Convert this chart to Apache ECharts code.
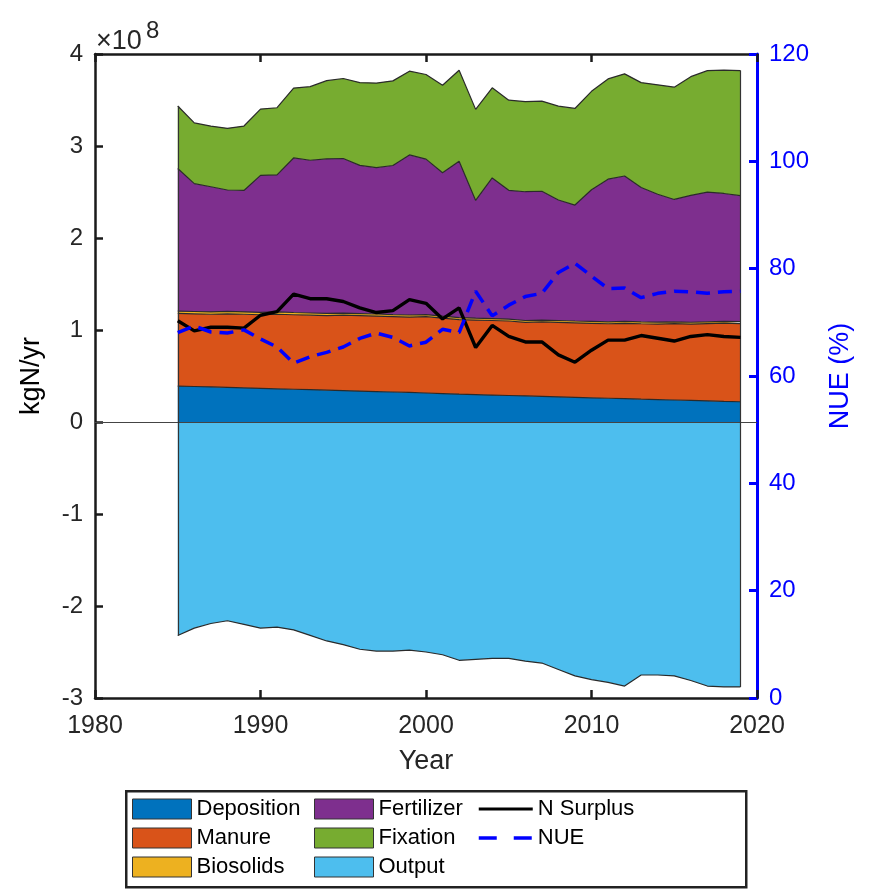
<!DOCTYPE html>
<html>
<head>
<meta charset="utf-8">
<script src="https://cdn.jsdelivr.net/npm/echarts@6/dist/echarts.min.js"></script>
<style>
html,body{margin:0;padding:0;background:#fff;}
#chart{width:870px;height:893px;}
</style>
</head>
<body>
<div id="chart"></div>
<script>
// ---- Data (kgN/yr in units of 1e8; NUE in %) ----
const years = [1985,1986,1987,1988,1989,1990,1991,1992,1993,1994,1995,1996,1997,1998,1999,2000,2001,2002,2003,2004,2005,2006,2007,2008,2009,2010,2011,2012,2013,2014,2015,2016,2017,2018,2019];
const deposition = [0.39,0.386,0.381,0.376,0.371,0.366,0.361,0.356,0.351,0.346,0.341,0.336,0.331,0.326,0.321,0.315,0.309,0.303,0.298,0.293,0.288,0.283,0.278,0.273,0.268,0.263,0.258,0.253,0.248,0.244,0.239,0.234,0.229,0.224,0.22];
const manure = [0.79,0.79,0.79,0.80,0.80,0.80,0.81,0.81,0.81,0.81,0.82,0.82,0.82,0.82,0.82,0.83,0.82,0.81,0.81,0.81,0.81,0.80,0.81,0.81,0.81,0.81,0.81,0.82,0.82,0.82,0.83,0.83,0.84,0.85,0.85];
const biosolids = [0.025,0.025,0.026,0.026,0.026,0.025,0.025,0.024,0.024,0.024,0.023,0.023,0.023,0.022,0.022,0.022,0.021,0.021,0.02,0.02,0.02,0.02,0.02,0.02,0.02,0.021,0.021,0.021,0.021,0.021,0.02,0.02,0.02,0.02,0.02];
const fertilizer = [1.55,1.39,1.36,1.32,1.32,1.49,1.49,1.68,1.66,1.68,1.68,1.61,1.59,1.62,1.74,1.69,1.56,1.70,1.28,1.53,1.40,1.40,1.40,1.31,1.26,1.43,1.55,1.58,1.46,1.39,1.33,1.38,1.41,1.39,1.37];
const fixation = [0.68,0.66,0.66,0.67,0.70,0.72,0.73,0.76,0.80,0.85,0.87,0.90,0.92,0.92,0.91,0.92,0.95,0.99,0.99,0.98,0.98,0.98,0.98,1.02,1.05,1.07,1.09,1.11,1.14,1.19,1.22,1.29,1.32,1.34,1.36];
const output = [-2.32,-2.24,-2.19,-2.16,-2.20,-2.24,-2.23,-2.26,-2.32,-2.38,-2.42,-2.47,-2.49,-2.49,-2.48,-2.50,-2.53,-2.59,-2.58,-2.57,-2.57,-2.60,-2.62,-2.69,-2.76,-2.80,-2.83,-2.87,-2.75,-2.75,-2.76,-2.81,-2.87,-2.88,-2.88];
const nSurplus = [1.10,0.99,1.03,1.03,1.02,1.16,1.20,1.39,1.34,1.34,1.31,1.24,1.19,1.21,1.33,1.29,1.12,1.24,0.81,1.05,0.93,0.87,0.87,0.73,0.65,0.78,0.89,0.89,0.94,0.91,0.88,0.93,0.95,0.93,0.92];
const nue = [68.1,69.3,68.2,68.0,68.6,66.9,65.4,62.4,63.6,64.4,65.4,67.0,68.0,67.2,65.6,66.3,68.7,68.1,75.8,71.2,73.2,74.8,75.4,79.3,81.0,78.6,76.3,76.4,74.6,75.4,75.8,75.7,75.4,75.7,75.8];
const leftTicks = [-3,-2,-1,0,1,2,3,4];
const rightTicks = [0,20,40,60,80,100,120];
const xTicks = [1980,1990,2000,2010,2020];

const colors = {
  Deposition:'#0072BD', Manure:'#D95319', Biosolids:'#EDB120',
  Fertilizer:'#7E2F8E', Fixation:'#77AC30', Output:'#4DBEEE'
};
// category axis spanning the full x range (one slot per year)
const cats = [];
for (let y = xTicks[0]; y <= xTicks[xTicks.length-1]; y++) cats.push(String(y));
const pad = arr => cats.map(c => { const i = years.indexOf(+c); return i < 0 ? null : arr[i]; });
const edge = '#2a2a2a';
const FONT = 'Liberation Sans, Arial, sans-serif';

function areaSeries(name, arr){
  return {
    name, type:'line', stack:'inputs', data:pad(arr), symbol:'none',
    lineStyle:{color:edge, width:1.2},
    itemStyle:{color:colors[name]},
    areaStyle:{color:colors[name], opacity:1},
    emphasis:{disabled:true}, z:2
  };
}
const last = years.length-1;
const total0 = deposition[0]+manure[0]+biosolids[0]+fertilizer[0]+fixation[0];
const totalN = deposition[last]+manure[last]+biosolids[last]+fertilizer[last]+fixation[last];

const chart = echarts.init(document.getElementById('chart'), null, {renderer:'canvas'});
const legendIcon = name => ({name, icon:'rect', itemStyle:{color:colors[name], borderColor:'#333', borderWidth:1}});
const legendBase = {
  orient:'vertical', top:798, padding:0, itemWidth:59, itemHeight:20, itemGap:7,
  textStyle:{fontSize:22, color:'#000', fontFamily:FONT},
  selectedMode:false
};
const xCommon = {
  type:'category', data:cats, boundaryGap:false,
  axisLine:{show:true, onZero:false, lineStyle:{color:'#1a1a1a', width:2.5}},
  axisTick:{show:true, inside:true, length:8, interval:9, lineStyle:{color:'#1a1a1a', width:2.5}},
  splitLine:{show:false}
};

chart.setOption({
  animation:false,
  textStyle:{fontFamily:FONT},
  grid:{left:95, top:54, width:662, height:644, containLabel:false},
  xAxis:[
    Object.assign({}, xCommon, {position:'bottom',
     name:'Year', nameLocation:'middle', nameGap:50,
     nameTextStyle:{fontSize:27, color:'#262626', fontFamily:FONT},
     axisLabel:{interval:9, fontSize:25, color:'#262626', margin:16, fontFamily:FONT}}),
    Object.assign({}, xCommon, {position:'top', axisLabel:{show:false}})
  ],
  yAxis:[
    {type:'value', min:leftTicks[0], max:leftTicks[leftTicks.length-1], interval:1, position:'left',
     name:'kgN/yr', nameLocation:'middle', nameGap:50,
     nameTextStyle:{fontSize:27, color:'#000', fontFamily:FONT},
     axisLine:{show:true, onZero:false, lineStyle:{color:'#1a1a1a', width:2.5}},
     axisTick:{show:true, inside:true, length:8, lineStyle:{color:'#1a1a1a', width:2.5}},
     axisLabel:{fontSize:24, color:'#262626', margin:12, fontFamily:FONT},
     splitLine:{show:false}},
    {type:'value', min:rightTicks[0], max:rightTicks[rightTicks.length-1], interval:20, position:'right',
     name:'NUE (%)', nameLocation:'middle', nameGap:70,
     nameTextStyle:{fontSize:27, color:'#0000FF', fontFamily:FONT},
     axisLine:{show:true, onZero:false, lineStyle:{color:'#0000FF', width:3}},
     axisTick:{show:true, inside:true, length:8, lineStyle:{color:'#0000FF', width:3}},
     axisLabel:{fontSize:24, color:'#0000FF', margin:12, fontFamily:FONT},
     splitLine:{show:false}}
  ],
  legend:[
    Object.assign({}, legendBase, {left:132, data:['Deposition','Manure','Biosolids'].map(legendIcon)}),
    Object.assign({}, legendBase, {left:314, data:['Fertilizer','Fixation','Output'].map(legendIcon)}),
    Object.assign({}, legendBase, {left:477, itemWidth:54, data:[
      {name:'N Surplus', itemStyle:{opacity:0}, lineStyle:{width:3, color:'#000'}},
      {name:'NUE', itemStyle:{opacity:0}, lineStyle:{type:[18,17], width:3.5, color:'#0000FF'}}
    ]})
  ],
  graphic:[
    {type:'rect', left:125, top:790, shape:{width:620, height:96}, style:{fill:'#fff', stroke:'#222', lineWidth:2.5}, z:-1},
    {type:'text', x:96, y:42, style:{text:'×10', fill:'#262626', font:'27px '+FONT, textVerticalAlign:'middle'}},
    {type:'text', x:146, y:31, style:{text:'8', fill:'#262626', font:'24px '+FONT, textVerticalAlign:'middle'}}
  ],
  series:[
    {
      name:'Output', type:'line', data:pad(output), symbol:'none',
      lineStyle:{color:edge, width:1.2},
      itemStyle:{color:colors.Output},
      areaStyle:{color:colors.Output, opacity:1, origin:0},
      emphasis:{disabled:true}, z:2,
      markLine:{
        silent:true, symbol:['none','none'], label:{show:false}, z:5,
        lineStyle:{color:'#333', width:1.2, type:'solid'},
        data:[
          {yAxis:0, lineStyle:{color:'#444', width:1}},
          [{coord:[String(years[0]), output[0]]},{coord:[String(years[0]), total0]}],
          [{coord:[String(years[last]), output[last]]},{coord:[String(years[last]), totalN]}]
        ]
      }
    },
    areaSeries('Deposition', deposition),
    areaSeries('Manure', manure),
    areaSeries('Biosolids', biosolids),
    areaSeries('Fertilizer', fertilizer),
    areaSeries('Fixation', fixation),
    {name:'N Surplus', type:'line', data:pad(nSurplus), symbol:'none', z:6,
     lineStyle:{color:'#000', width:3.4}, itemStyle:{color:'#000'}, emphasis:{disabled:true}},
    {name:'NUE', type:'line', yAxisIndex:1, data:pad(nue), symbol:'none', z:7,
     lineStyle:{color:'#0000FF', width:3.5, type:[14,8]}, itemStyle:{color:'#0000FF'}, emphasis:{disabled:true}}
  ]
});
</script>
</body>
</html>
